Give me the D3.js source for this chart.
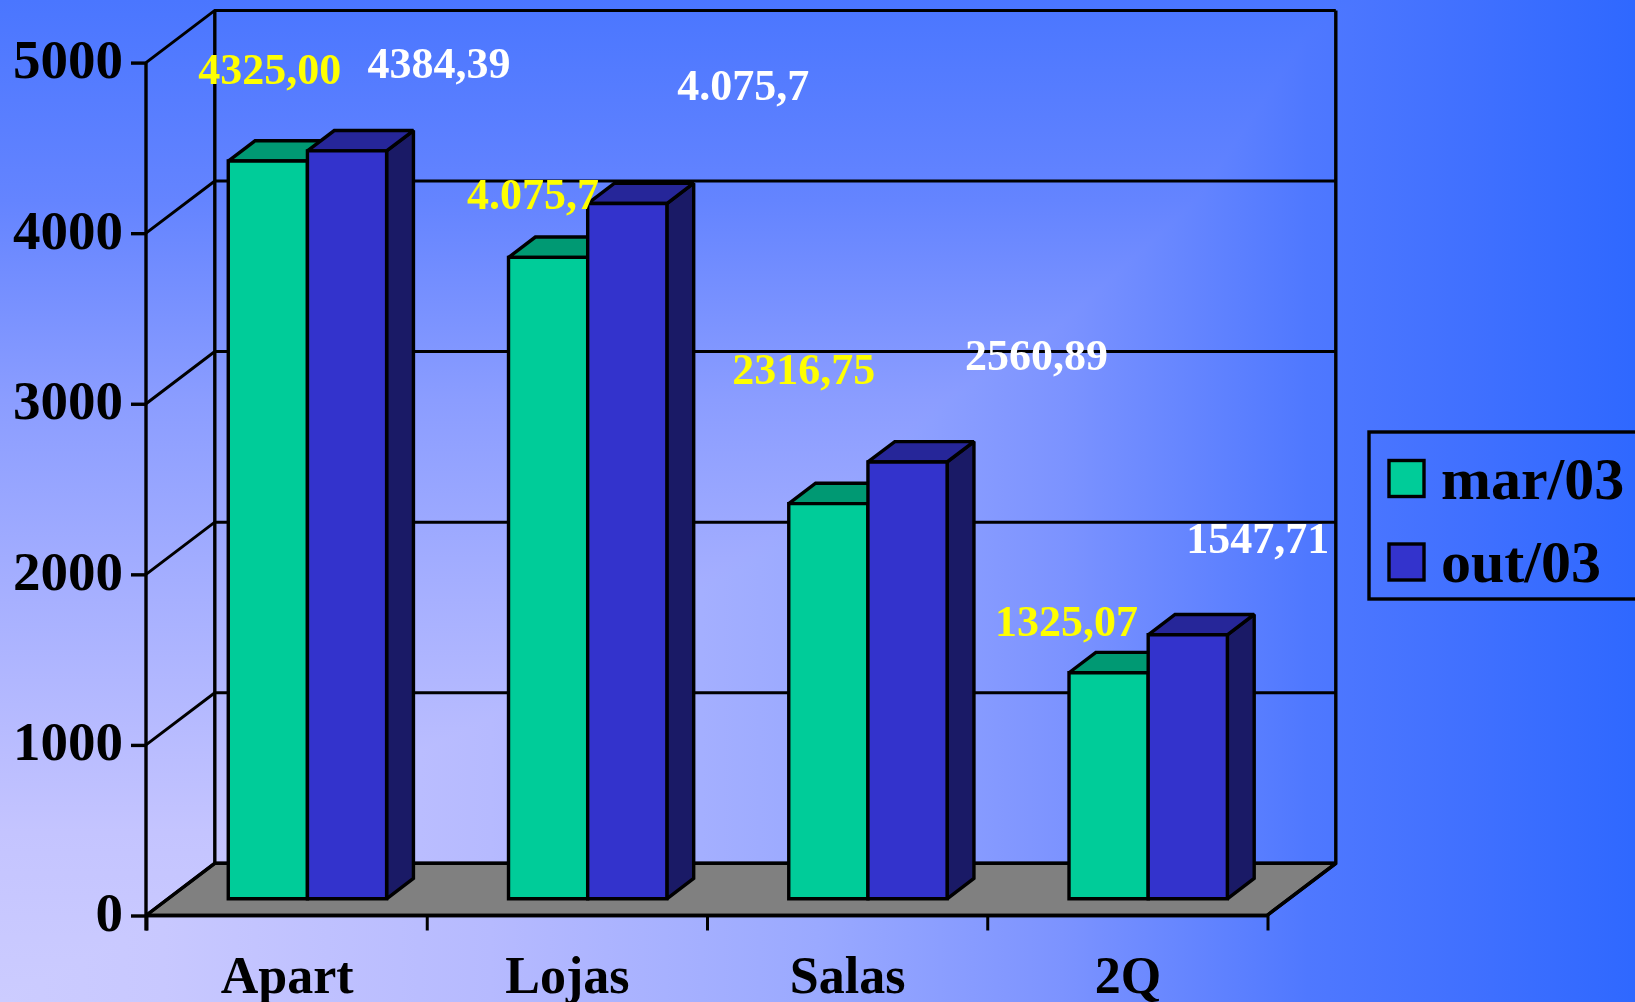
<!DOCTYPE html>
<html><head><meta charset="utf-8">
<script src="https://cdn.jsdelivr.net/npm/d3@7"></script>
<style>
html,body{margin:0;padding:0;background:#3366ff;overflow:hidden}
svg{display:block;font-family:"Liberation Serif",serif;font-weight:bold}
</style></head><body>
<script>
const categories = ["Apart","Lojas","Salas","2Q"];
const seriesNames = ["mar/03","out/03"];
const marValues = [4325.00,3760,2316.75,1325.07];
const outValues = [4384.39,4075.7,2560.89,1547.71];
const marLabels = ["4325,00","4.075,7","2316,75","1325,07"];
const outLabels = ["4384,39","4.075,7","2560,89","1547,71"];
const yTicks = [0,1000,2000,3000,4000,5000];
// label displacement from the top of each bar (layout only)
const marNudge = [[2,-77],[-15,-48],[-24.5,-120],[-42,-37]];
const outNudge = [[92,-73],[116,-104],[129,-92],[70,-82]];

const W=1635,H=1002;
const colors=[{front:"#00cc99",top:"#009973",side:"#006b50"},{front:"#3333cc",top:"#262699",side:"#1a1a66"}];
const svg=d3.select("body").append("svg").attr("width",W).attr("height",H);
const defs=svg.append("defs");
const gh=defs.append("linearGradient").attr("id","gh");
[[0,"#ccccff"],[.1,"#c8c8ff"],[.3,"#b6baff"],[.5,"#9aa9ff"],[.65,"#7c93ff"],[.8,"#4f78ff"],[.9,"#4070ff"],[1,"#2f68ff"]]
  .forEach(s=>gh.append("stop").attr("offset",s[0]).attr("stop-color",s[1]));
const gv=defs.append("linearGradient").attr("id","gv").attr("x1",0).attr("y1",0).attr("x2",0).attr("y2",1);
[[0,"#4a76ff"],[.2,"#6484ff"],[.4,"#8b9dff"],[.6,"#a7b0ff"],[.83,"#c4c4ff"],[1,"#ccccff"]]
  .forEach(s=>gv.append("stop").attr("offset",s[0]).attr("stop-color",s[1]));
svg.append("rect").attr("width",W).attr("height",H).attr("fill","url(#gh)");
svg.append("rect").attr("width",W).attr("height",H).attr("fill","url(#gv)").style("mix-blend-mode","darken");

const x0=146,x1=1267,yBase=915.5,yTop=62.6,DX=68.8,DY=52.2;
const x=d3.scaleBand().domain(categories).range([x0,x1]).paddingInner(0).paddingOuter(0);
const y=d3.scaleLinear().domain([0,5000]).range([yBase,yTop]);
const inner=d3.scaleBand().domain(seriesNames).range([0.215,0.78]);
const P=(px,v,d)=>[px+DX*d,y(v)-DY*d];
const line=d3.line();
const sty=(s,w=3.4)=>s.attr("stroke","#000").attr("stroke-width",w).attr("stroke-linejoin","miter").attr("stroke-miterlimit",1.5);

// floor
sty(svg.append("path").attr("fill","#808080").attr("d",line([P(x0,0,0),P(x0,0,1),P(x1,0,1),P(x1,0,0)])+"Z"));
// back wall gridlines
yTicks.forEach(t=>{
  sty(svg.append("path").attr("fill","none").attr("d",line([P(x0,t,0),P(x0,t,1),P(x1,t,1)])),3);
});
sty(svg.append("path").attr("fill","none").attr("d",line([P(x0,0,1),P(x0,5000,1)])));
sty(svg.append("path").attr("fill","none").attr("d",line([P(x1,0,0),P(x1,0,1),P(x1,5000,1)])));

// axes
const ay=svg.append("g").attr("transform",`translate(${x0},0)`)
  .call(d3.axisLeft(y).tickValues(yTicks).tickSize(15).tickPadding(8).tickFormat(d3.format("d")));
ay.selectAll("text").attr("font-size",55).attr("fill","#000").attr("font-family","Liberation Serif").attr("font-weight","bold").attr("dy","0.27em");
ay.selectAll("line").attr("stroke-width",3.4).attr("stroke","#000");
ay.select(".domain").attr("stroke","#000").attr("stroke-width",3.4).attr("d",`M0,${yTop}V${yBase+15}`);
const ax=svg.append("g").attr("transform",`translate(0,${yBase})`)
  .call(d3.axisBottom(x).tickSize(0).tickPadding(0));
ax.select(".domain").attr("stroke","#000").attr("stroke-width",3.4).attr("d",`M${x0},0H${x1}`);
ax.selectAll(".tick line").remove();
ax.selectAll(".tick text").attr("y",77).attr("dy",0).attr("dx",1).attr("font-size",52).attr("fill","#000").attr("font-family","Liberation Serif").attr("font-weight","bold");
const bticks=categories.map(c=>x(c)+x.bandwidth()).concat([x0]);
ax.selectAll("line.bt").data(bticks).join("line").attr("class","bt")
  .attr("x1",d=>d+1).attr("x2",d=>d+1).attr("y1",0).attr("y2",15).attr("stroke","#000").attr("stroke-width",3);

// bars
const dA=0.32,dB=0.71;
const allVals=[marValues,outValues];
[0,1].forEach(si=>{
  categories.forEach((c,i)=>{
    const v=allVals[si][i],c0=colors[si];
    const l=x(c)+inner(seriesNames[si])*x.bandwidth();
    const r=l+inner.bandwidth()*x.bandwidth();
    const g=svg.append("g");
    sty(g.append("path").attr("fill",c0.side).attr("d",line([P(r,0,dA),P(r,0,dB),P(r,v,dB),P(r,v,dA)])+"Z"));
    sty(g.append("path").attr("fill",c0.top).attr("d",line([P(l,v,dA),P(l,v,dB),P(r,v,dB),P(r,v,dA)])+"Z"));
    sty(g.append("path").attr("fill",c0.front).attr("d",line([P(l,0,dA),P(l,v,dA),P(r,v,dA),P(r,0,dA)])+"Z"));
  });
});

// data labels
[[marLabels,marNudge,"#ffff00",0],[outLabels,outNudge,"#ffffff",1]].forEach(([lab,n,col,si])=>{
  categories.forEach((c,i)=>{
    const l=x(c)+inner(seriesNames[si])*x.bandwidth();
    const cx=l+inner.bandwidth()*x.bandwidth()/2;
    const p=P(cx,allVals[si][i],dA);
    svg.append("text").attr("x",p[0]+n[i][0]).attr("y",p[1]+n[i][1]).attr("text-anchor","middle")
      .attr("fill",col).attr("font-size",44).text(lab[i]);
  });
});

// legend
const lg=svg.append("g");
sty(lg.append("rect").attr("x",1369).attr("y",432).attr("width",300).attr("height",167).attr("fill","none"));
const ly=d3.scalePoint().domain(seriesNames).range([478.5,562]);
seriesNames.forEach((s,i)=>{
  sty(lg.append("rect").attr("x",1389).attr("y",ly(s)-18).attr("width",35).attr("height",36).attr("fill",colors[i].front));
  lg.append("text").attr("x",1441).attr("y",ly(s)+20).attr("font-size",60).attr("fill","#000").text(s);
});
</script></body></html>
